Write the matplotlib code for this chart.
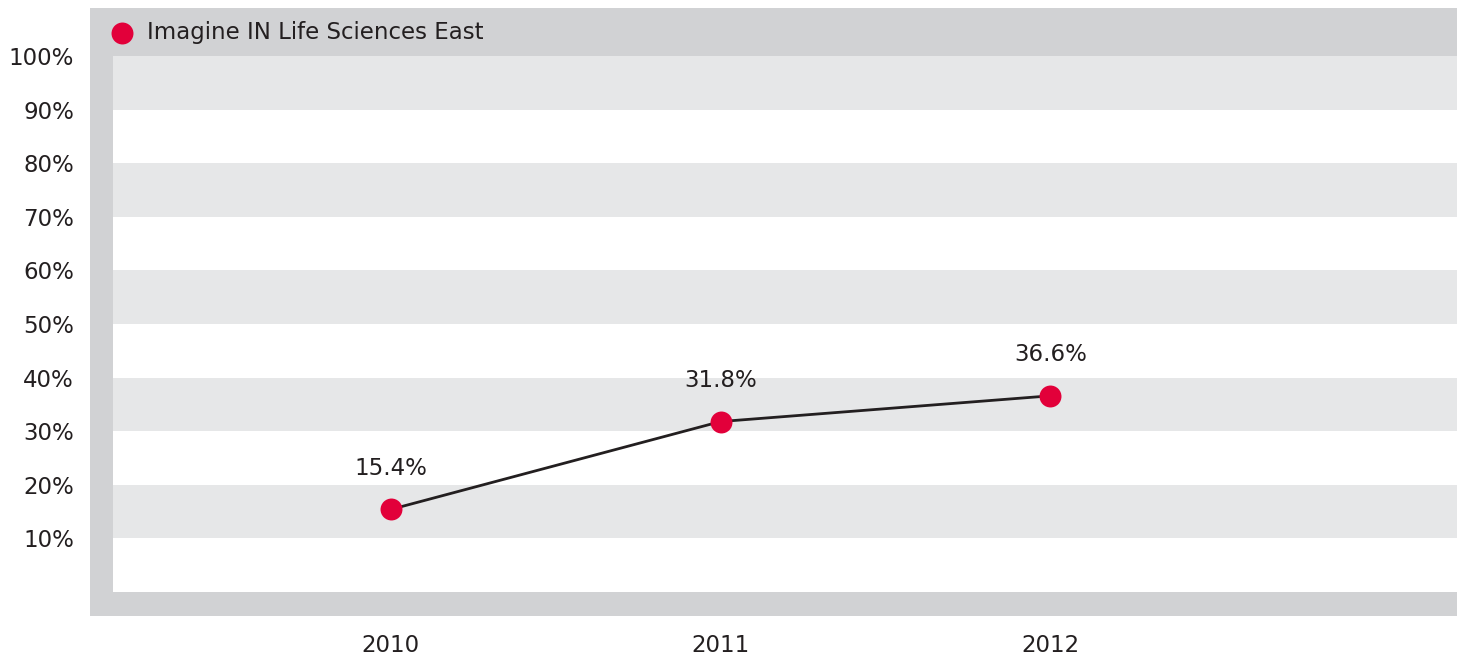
import matplotlib
matplotlib.use("Agg")
import matplotlib.pyplot as plt
from matplotlib.patches import Rectangle
from matplotlib.lines import Line2D

# ---- data ----
years = ["2010", "2011", "2012"]
values = [15.4, 31.8, 36.6]
series_name = "Imagine IN Life Sciences East"
ytick_values = [10, 20, 30, 40, 50, 60, 70, 80, 90, 100]
ytick_labels = ["10%", "20%", "30%", "40%", "50%", "60%", "70%", "80%", "90%", "100%"]

# ---- style ----
W, H = 1463, 658
DPI = 100
TEXT = "#231f20"
RED = "#e2003a"
FRAME = "#d1d2d4"
BAND = "#e6e7e8"
FS = 16.5
plt.rcParams["font.family"] = ["DejaVu Sans"]

fig = plt.figure(figsize=(W / DPI, H / DPI), dpi=DPI)
fig.patch.set_facecolor("white")

def fx(px):
    return px / W

def fy(py):
    return 1 - py / H

# axes area in pixels
ax_l, ax_r, ax_t, ax_b = 113, 1457, 56, 592
ax = fig.add_axes([fx(ax_l), fy(ax_b), fx(ax_r - ax_l), (ax_b - ax_t) / H])

# frame (gray bars)
frame_l, frame_t, frame_b = 90, 8, 616
fig.add_artist(Rectangle((fx(frame_l), fy(ax_t)), fx(ax_r - frame_l), (ax_t - frame_t) / H,
                         transform=fig.transFigure, facecolor=FRAME, edgecolor="none", zorder=0))
fig.add_artist(Rectangle((fx(frame_l), fy(frame_b)), fx(ax_l - frame_l), (frame_b - frame_t) / H,
                         transform=fig.transFigure, facecolor=FRAME, edgecolor="none", zorder=0))
fig.add_artist(Rectangle((fx(frame_l), fy(frame_b)), fx(ax_r - frame_l), (frame_b - ax_b) / H,
                         transform=fig.transFigure, facecolor=FRAME, edgecolor="none", zorder=0))

# bands
ax.set_ylim(0, 100)
for lo in range(10, 100, 20):
    ax.axhspan(lo, lo + 10, color=BAND, lw=0, zorder=0)

x = list(range(len(years)))
ax.plot(x, values, color=TEXT, lw=2, zorder=2)
ax.plot(x, values, ls="none", marker="o", ms=15.8, markerfacecolor=RED,
        markeredgecolor="none", zorder=3)
for xi, v in zip(x, values):
    ax.annotate(f"{v:.1f}%", (xi, v), xytext=(0, 29.5), textcoords="offset points",
                ha="center", va="center", fontsize=FS, color=TEXT)

ax.set_xlim(-0.842, 3.233)
ax.set_xticks(x)
ax.set_xticklabels(years)
ax.set_yticks(ytick_values)
ax.set_yticklabels(ytick_labels)
ax.tick_params(axis="x", length=0, pad=30.5, labelsize=FS, colors=TEXT)
ax.tick_params(axis="y", length=0, pad=28, labelsize=FS, colors=TEXT)
for s in ax.spines.values():
    s.set_visible(False)

# legend
fig.add_artist(Line2D([fx(122)], [fy(33)], transform=fig.transFigure, ls="none", marker="o",
                      ms=15.8, markerfacecolor=RED, markeredgecolor="none"))
fig.text(fx(147), fy(33), series_name, ha="left", va="center", fontsize=FS, color=TEXT)

fig.savefig("out.png", dpi=DPI, facecolor="white")
